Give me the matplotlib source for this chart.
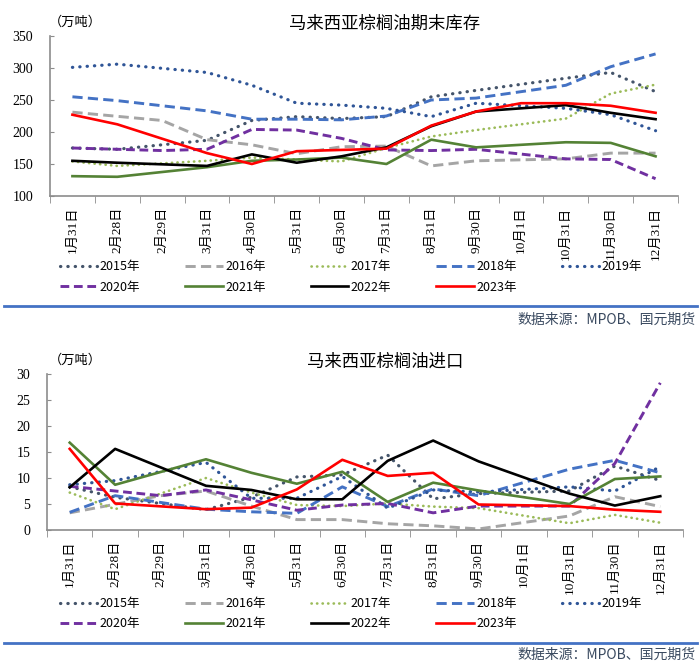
import numpy as np
import matplotlib
matplotlib.use("Agg")
import matplotlib.pyplot as plt
from matplotlib.lines import Line2D

N = None

## categories (x axis)
dates = ["1月31日", "2月28日", "2月29日", "3月31日", "4月30日", "5月31日", "6月30日",
         "7月31日", "8月31日", "9月30日", "10月1日", "10月31日", "11月30日", "12月31日"]
years = ["2015年", "2016年", "2017年", "2018年", "2019年", "2020年", "2021年", "2022年", "2023年"]

## end-of-month stocks (10k tonnes)
stock_2015 = [175, 173, N, 187, 218, 224, 221, 224, 255, 265, N, 284, 293, 263]
stock_2016 = [231, N, 218, 188, 180, 166, 177, 178, 147, 155, N, 158, 167, 167]
stock_2017 = [154, 147, N, 155, 160, 157, 154, 175, 193, 203, N, 221, 260, 274]
stock_2018 = [255, 249, N, 233, 220, 220, 219, 225, 250, 253, N, 273, 302, 322]
stock_2019 = [301, 306, N, 293, 273, 245, 242, 237, 224, 245, N, 237, 227, 202]
stock_2020 = [175, N, 171, 173, 204, 203, 190, 172, 171, 173, N, 158, 157, 127]
stock_2021 = [131, 130, N, 145, 155, 157, 160, 150, 188, 176, N, 184, 183, 162]
stock_2022 = [155, 152, N, 147, 165, 152, 162, 176, 209, 232, 237, 242, 230, 220]
stock_2023 = [227, 212, N, 167, 150, 170, 172, 174, 210, 232, 245, 245, 241, 230]

## imports (10k tonnes)
imp_2015 = [8.3, 6.3, N, 3.9, 6.3, 10.2, 10.6, 14.4, 6.0, 7.0, N, 7.5, 12.3, 9.5]
imp_2016 = [3.3, N, 6.6, 7.5, 4.6, 2.0, 2.0, 1.2, 0.8, 0.2, N, 2.7, 6.4, 4.5]
imp_2017 = [7.2, 4.0, N, 10.0, 7.2, 4.8, 4.6, 5.1, 4.5, 4.2, N, 1.3, 2.9, 1.4]
imp_2018 = [3.4, 6.6, N, 4.0, 3.5, 3.2, 8.3, 4.5, 7.9, 6.6, N, 11.7, 13.4, 11.0]
imp_2019 = [8.7, 9.5, N, 13.0, 6.1, 6.1, 10.3, 4.2, 7.7, 7.3, N, 8.3, 7.5, 12.2]
imp_2020 = [8.4, N, 6.6, 7.7, 5.8, 3.8, 4.8, 5.1, 3.3, 4.6, N, 4.6, 12.8, 28.3]
imp_2021 = [16.8, 8.7, N, 13.6, 11.0, 8.9, 11.2, 5.4, 9.1, 7.6, N, 5.0, 9.8, 10.3]
imp_2022 = [8.2, 15.6, N, 8.5, 7.7, 5.9, 5.9, 13.3, 17.2, 13.2, N, 7.0, 4.7, 6.5]
imp_2023 = [15.6, 5.1, N, 4.0, 4.3, 7.8, 13.5, 10.4, 11.0, 4.9, N, 4.6, 3.9, 3.5]

stocks = [stock_2015, stock_2016, stock_2017, stock_2018, stock_2019,
          stock_2020, stock_2021, stock_2022, stock_2023]
imports = [imp_2015, imp_2016, imp_2017, imp_2018, imp_2019,
           imp_2020, imp_2021, imp_2022, imp_2023]

## line styles per year
styles = [
    dict(color="#44546A", linestyle=(0, (0.1, 2.2)), dash_capstyle="round", lw=2.3),
    dict(color="#A5A5A5", linestyle=(0, (3.5, 1.8)), lw=2.1),
    dict(color="#9BBB59", linestyle=(0, (0.1, 2.0)), dash_capstyle="round", lw=1.9),
    dict(color="#4472C4", linestyle=(0, (3.5, 1.8)), lw=2.1),
    dict(color="#2F5597", linestyle=(0, (0.1, 2.2)), dash_capstyle="round", lw=2.3),
    dict(color="#7030A0", linestyle=(0, (3.0, 1.6)), lw=2.1),
    dict(color="#548235", linestyle="-", lw=1.9),
    dict(color="#000000", linestyle="-", lw=1.9),
    dict(color="#FF0000", linestyle="-", lw=1.9),
]

CJK = "Noto Sans CJK SC"
SERIF = ["Liberation Serif", CJK]
plt.rcParams["font.family"] = SERIF


def drawPanel(fig, rect, series, ylim, ystep, title, legendTop, lineY, srcY):
    ax = fig.add_axes(rect)
    handles = []
    for vals, st, name in zip(series, styles, years):
        x = [i for i, v in enumerate(vals) if v is not None]
        y = [v for v in vals if v is not None]
        h, = ax.plot(x, y, label=name, **st)
        handles.append(h)

    ax.set_xlim(-0.5, len(dates) - 0.5)
    ax.set_ylim(*ylim)
    yt = np.arange(ylim[0], ylim[1] + 0.1, ystep)
    ax.set_yticks(yt, labels=[str(int(v)) for v in yt], fontsize=10)
    ax.set_xticks(range(len(dates)), labels=dates, rotation=90, fontsize=9.5, va="top")
    ax.set_xticks(np.arange(-0.5, len(dates), 1), minor=True)
    ax.tick_params(axis="x", which="major", length=0, pad=7.5)
    ax.tick_params(axis="x", which="minor", length=5, color="#8c8c8c", direction="out")
    ax.tick_params(axis="y", length=3, direction="in", color="#8c8c8c", pad=12)
    for s in ["top", "right"]:
        ax.spines[s].set_visible(False)
    for s in ["left", "bottom"]:
        ax.spines[s].set_color("#8c8c8c")
        ax.spines[s].set_linewidth(1.2)

    # title and unit
    top = rect[1] + rect[3]
    fig.text(0.55, top + 0.018, title, ha="center", va="center", family=CJK, fontsize=12.5)
    fig.text(0.107, top + 0.021, "（万吨）", ha="center", va="center", family=CJK, fontsize=9.5)

    # legend, row-major order through column-major fill
    order = [0, 5, 1, 6, 2, 7, 3, 8, 4]
    fig.legend([handles[i] for i in order], [years[i] for i in order],
               ncol=5, loc="upper left", bbox_to_anchor=(0.085, legendTop),
               frameon=False, prop={"family": CJK, "size": 9},
               handlelength=3.0, handletextpad=0.2, columnspacing=3.6,
               labelspacing=0.6, borderpad=0, borderaxespad=0)

    fig.add_artist(Line2D([0.005, 0.995], [lineY, lineY], transform=fig.transFigure,
                          color="#4472C4", lw=2))
    fig.text(0.993, srcY, "数据来源：MPOB、国元期货", ha="right", va="center",
             family=CJK, fontsize=10, color="#3a4a60")
    return ax


fig = plt.figure(figsize=(7.0, 6.66), dpi=100)
H = 666.0
drawPanel(fig, [50 / 700, 1 - 196 / H, 628 / 700, 160 / H], stocks, (100, 350), 50,
          "马来西亚棕榈油期末库存", 1 - 260 / H, 1 - 306 / H, 1 - 320 / H)
drawPanel(fig, [47 / 700, 1 - 530 / H, 636 / 700, 156 / H], imports, (0, 30), 5,
          "马来西亚棕榈油进口", 1 - 597 / H, 1 - 643 / H, 1 - 655 / H)

plt.savefig("out.png", dpi=100)
plt.close()
